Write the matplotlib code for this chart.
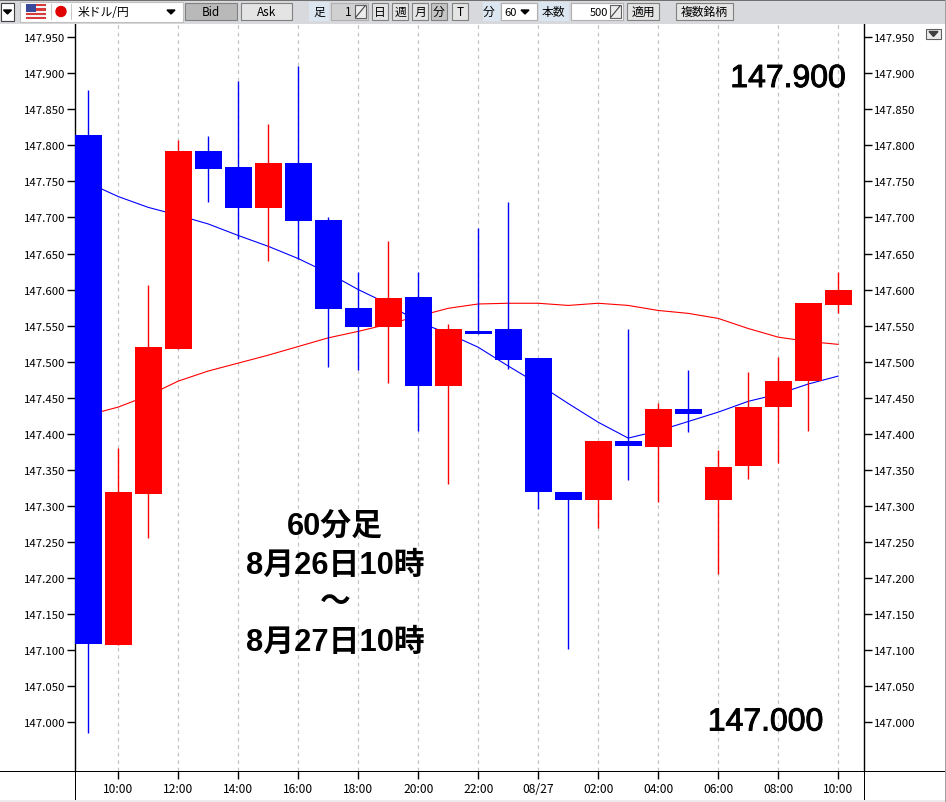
"""
USD/JPY 60 minute candlestick chart with trading tool toolbar.
"""

import matplotlib
matplotlib.use('Agg')
import matplotlib.pyplot as plt
import matplotlib.patheffects as pe
from matplotlib.patches import Rectangle, Circle, Polygon

plt.rcParams['font.family'] = ['Noto Sans CJK JP', 'DejaVu Sans']

# candles, one per hour from 08/26 09:00
opens = [147.814, 147.107, 147.316, 147.518, 147.792, 147.770, 147.713, 147.775, 147.696,
         147.574, 147.548, 147.589, 147.466, 147.543, 147.545, 147.505, 147.319, 147.308,
         147.390, 147.381, 147.435, 147.308, 147.355, 147.437, 147.473, 147.579]
closes = [147.108, 147.319, 147.521, 147.792, 147.767, 147.713, 147.776, 147.695, 147.573,
          147.548, 147.588, 147.466, 147.545, 147.538, 147.502, 147.319, 147.308, 147.390,
          147.383, 147.434, 147.428, 147.354, 147.437, 147.473, 147.581, 147.599]
highs = [147.877, 147.380, 147.606, 147.807, 147.813, 147.889, 147.830, 147.910, 147.700,
         147.624, 147.668, 147.624, 147.552, 147.686, 147.722, 147.505, 147.319, 147.390,
         147.545, 147.442, 147.489, 147.377, 147.485, 147.506, 147.581, 147.625]
lows = [146.985, 147.107, 147.255, 147.518, 147.721, 147.670, 147.639, 147.642, 147.492,
        147.488, 147.470, 147.404, 147.330, 147.538, 147.490, 147.295, 147.101, 147.270,
        147.336, 147.306, 147.402, 147.205, 147.337, 147.360, 147.404, 147.567]

ma_blue = [147.748, 147.729, 147.714, 147.703, 147.691, 147.675, 147.660, 147.643, 147.623,
           147.600, 147.580, 147.555, 147.539, 147.520, 147.494, 147.469, 147.442, 147.416,
           147.394, 147.404, 147.417, 147.430, 147.445, 147.455, 147.469, 147.480]
ma_red = [147.426, 147.437, 147.453, 147.473, 147.487, 147.498, 147.509, 147.521, 147.533,
          147.542, 147.552, 147.563, 147.574, 147.580, 147.581, 147.581, 147.578, 147.581,
          147.578, 147.571, 147.567, 147.560, 147.546, 147.534, 147.528, 147.524]

y_ticks = [147.95, 147.90, 147.85, 147.80, 147.75, 147.70, 147.65, 147.60, 147.55, 147.50,
           147.45, 147.40, 147.35, 147.30, 147.25, 147.20, 147.15, 147.10, 147.05, 147.00]
x_ticks = [1, 3, 5, 7, 9, 11, 13, 15, 17, 19, 21, 23, 25]
x_labels = ['10:00', '12:00', '14:00', '16:00', '18:00', '20:00', '22:00', '08/27',
            '02:00', '04:00', '06:00', '08:00', '10:00']
period_lines = ['60分足', '8月26日10時', '～', '8月27日10時']
high_label = '147.900'
low_label = '147.000'

W, H = 946, 803
fig = plt.figure(figsize=(W / 100, H / 100), dpi=100, facecolor='white')
ax = fig.add_axes([75 / W, 1 - 772 / H, 789 / W, 747 / H])
ax.set_xlim(-0.44, 25.86)
ax.set_ylim(146.9323, 147.9683)

for s in ['top', 'bottom']:
    ax.spines[s].set_visible(False)
for s in ['left', 'right']:
    ax.spines[s].set_linewidth(1.0)

ax.grid(axis='x', color='#c4c4c4', linestyle=(0, (3, 3)), linewidth=0.9, zorder=0)
ax.set_axisbelow(True)

xs = list(range(len(opens)))
ax.plot(xs, ma_blue, color='#0000ff', linewidth=0.8, zorder=2)
ax.plot(xs, ma_red, color='#ff0000', linewidth=0.8, zorder=2)

for i in xs:
    color = '#ff0000' if closes[i] > opens[i] else '#0000ff'
    ax.vlines(i, lows[i], highs[i], color=color, linewidth=1.0, zorder=3)
    ax.bar(i, abs(closes[i] - opens[i]), width=0.9, bottom=min(opens[i], closes[i]),
           color=color, linewidth=0, zorder=4)

ax.set_yticks(y_ticks)
ax.set_yticklabels([f'{v:.3f}' for v in y_ticks])
ax.tick_params(axis='y', left=True, right=True, labelleft=True, labelright=True,
               length=6, width=1.0, labelsize=8.2, pad=1, colors='black')
ax.set_xticks(x_ticks)
ax.set_xticklabels(x_labels, va='baseline')
ax.tick_params(axis='x', length=6, width=1.0, labelsize=8.7, pad=9.4)

# window furniture in pixel coordinates
ui = fig.add_axes([0, 0, 1, 1], facecolor='none')
ui.set_xlim(0, W)
ui.set_ylim(H, 0)
ui.axis('off')

GRAY = '#d8d9dc'
TAB = '#dce6f1'


def box(x, y, w, h, fc, ec='none', lw=0.8):
    ui.add_patch(Rectangle((x, y), w, h, facecolor=fc, edgecolor=ec, linewidth=lw))


def label(x, text, size=8.5, ha='center', color='black'):
    ui.text(x, 12.5, text, fontsize=size, ha=ha, va='center', color=color)


def arrow(x, y, size=4):
    ui.add_patch(Polygon([(x - size, y - 2), (x + size, y - 2), (x, y + 2)], color='black'))


def button(x, w, text, fc='#e4e4e4', ec='#808080'):
    box(x, 4, w, 17, fc, ec)
    label(x + w / 2, text)


def spinner(x):
    box(x, 6, 11, 13, '#ececec', '#606060')
    ui.plot([x + 1, x + 10], [18, 7], color='#404040', linewidth=0.8)


box(0, 0, W, 25, GRAY)
box(0, 0, W, 1.5, '#707070')
box(1, 4, 13, 18, 'white', '#404040')
arrow(7.5, 13)
box(20, 3, 163, 20, 'white', '#c0c0c0')
for k in range(7):
    box(26, 5 + k * 2.2, 20, 2.2, '#d83a3a' if k % 2 == 0 else '#f4f4f4')
box(26, 5, 10, 8, '#3a4a9a')
ui.add_patch(Circle((61, 12.5), 5, color='#e00000'))
box(51, 5, 0.8, 16, '#c8c8c8')
box(71, 5, 0.8, 16, '#c8c8c8')
ui.text(78, 12.5, '米ドル/円', fontsize=8.5, ha='left', va='center')
arrow(171, 13)
button(185, 52, 'Bid', fc='#b9b9b9')
button(241, 51, 'Ask')
box(309, 3, 20, 19, TAB)
label(319, '足')
box(331, 4, 37, 17, '#d0d0d0', '#b0b0b0')
ui.text(352, 12.5, '1', fontsize=8.5, ha='right', va='center')
spinner(355)
for x0, t, fc in [(372, '日', '#e4e4e4'), (392, '週', '#e4e4e4'), (412, '月', '#e4e4e4'),
                  (431, '分', '#c4c4c4'), (452, 'T', '#e4e4e4')]:
    button(x0, 16, t, fc=fc)
box(483, 3, 17, 19, TAB)
label(489, '分')
box(501, 4, 36, 17, 'white', '#b0b0b0')
ui.text(504, 12.5, '60', fontsize=8, ha='left', va='center')
arrow(525, 13)
box(539, 3, 30, 19, TAB)
label(553, '本数')
box(571, 4, 52, 17, 'white', '#b0b0b0')
ui.text(608, 12.5, '500', fontsize=8, ha='right', va='center')
spinner(610)
button(627, 32, '適用')
button(676, 57, '複数銘柄')

# chart borders
box(0, 771.5, W, 1, 'black')
box(74.5, 772, 1, H - 772, 'black')
box(863.5, 772, 1, H - 772, 'black')
box(0, 800.5, W, 2.5, '#ececec')
box(945, 0, 1, H, '#a0a0a0')
box(926, 30, 15, 10, '#ececec', '#606060')
ui.add_patch(Polygon([(929, 32.5), (938, 32.5), (933.5, 37.5)], color='#404040'))

# large annotations
stroke = [pe.withStroke(linewidth=0.7, foreground='black')]
for x0, y0, t in [(788, 80, high_label), (765.5, 723.5, low_label)]:
    ui.text(x0, y0, t, fontsize=23, ha='center', va='center', color='black',
            family=['Liberation Sans', 'Noto Sans CJK JP'], path_effects=stroke)
for y0, t in zip([527, 566, 603, 643], period_lines):
    ui.text(335, y0, t, fontsize=22.2, ha='center', va='center', color='black', weight='bold',
            family=['Liberation Sans', 'Noto Sans CJK JP'])

fig.savefig('out.png', dpi=100)
plt.close()
